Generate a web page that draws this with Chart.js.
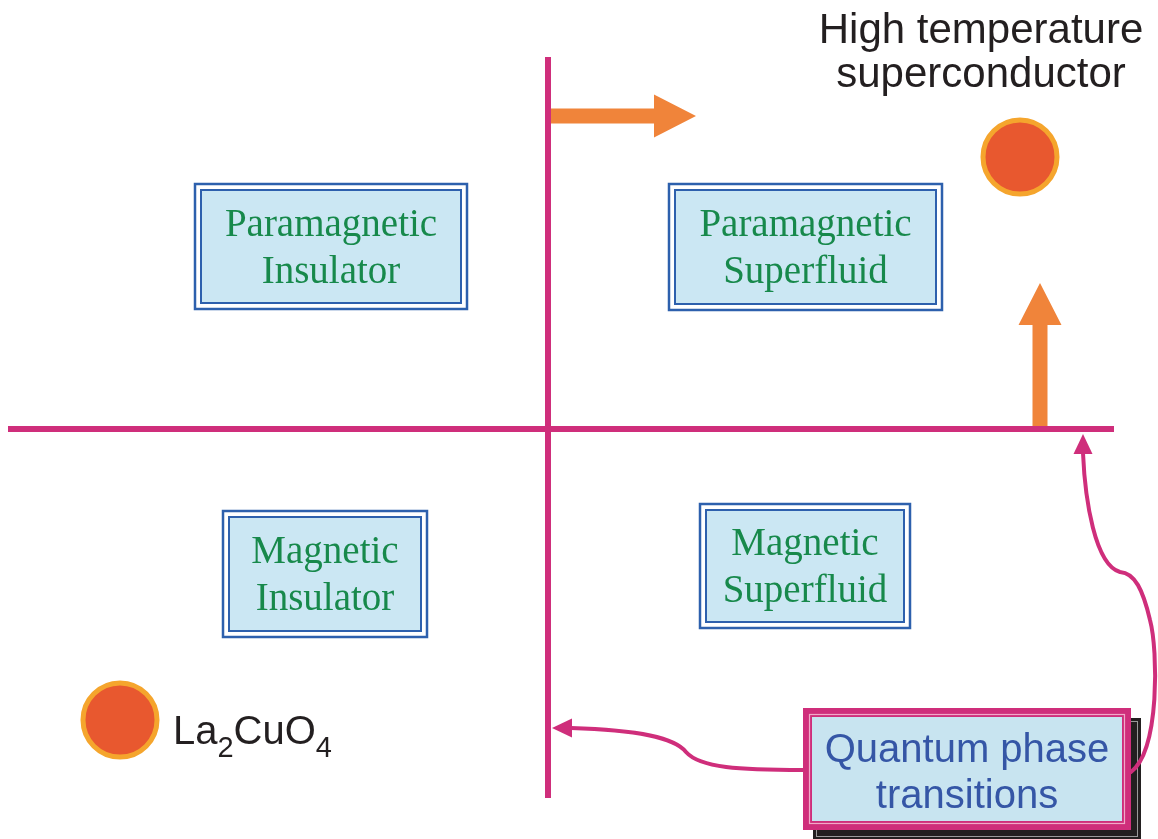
<!DOCTYPE html>
<html>
<head>
<meta charset="utf-8">
<script src="https://cdn.jsdelivr.net/npm/chart.js@4/dist/chart.umd.min.js"></script>
<style>
  html, body { margin: 0; padding: 0; background: #fff; overflow: hidden; }
  canvas { display: block; }
</style>
</head>
<body>
<canvas id="phaseChart" width="1158" height="839"></canvas>
<script>
// phase diagram in its own units: crossing of the two transition lines is (0, 0)
const axisV = { x: [0, 0], y: [3.72, -3.69] };
const axisH = { x: [-5.40, 5.66], y: [0, 0] };

const regionNames = [['Paramagnetic', 'Insulator'], ['Paramagnetic', 'Superfluid'],
                     ['Magnetic', 'Insulator'], ['Magnetic', 'Superfluid']];
const regionX = [-2.17, 2.575, -2.23, 2.57];
const regionY = [1.825, 1.82, -1.45, -1.37];
const regionW = [2.72, 2.73, 2.04, 2.10];
const regionH = [1.25, 1.26, 1.26, 1.24];

const materials = ['High temperature superconductor', 'La2CuO4'];
const materialX = [4.72, -4.28];
const materialY = [2.72, -2.91];

// orange "tuning" arrows: [from, to]
const tuneArrows = [
  [[0.03, 3.13], [1.48, 3.13]],
  [[4.92, 0.01], [4.92, 1.46]]
];

const qptLabel = ['Quantum phase', 'transitions'];
const qptBox = { x: 4.19, y: -3.40, w: 3.28, h: 1.22 };

// magenta pointer curves: start, then bezier triples, then arrow tip
const qptCurves = [
  { start: [2.55, -3.41],
    segs: [[[1.92, -3.41], [1.52, -3.39], [1.38, -3.23]],
           [[1.27, -3.09], [0.92, -3.01], [0.23, -2.99]]],
    tip: [0.04, -2.99] },
  { start: [5.83, -3.43],
    segs: [[[6.12, -3.21], [6.10, -2.21], [6.02, -1.91]],
           [[5.95, -1.61], [5.87, -1.44], [5.72, -1.43]],
           [[5.47, -1.36], [5.37, -0.71], [5.35, -0.24]]],
    tip: [5.35, -0.05] }
];

const MAGENTA = '#cf2e7b';
const ORANGE = '#f0843a';

function toPts(a) {
  return a.x.map((v, i) => ({ x: v, y: a.y[i] }));
}

const diagramPlugin = {
  id: 'diagram',
  beforeDatasetsDraw(chart) {
    const ctx = chart.ctx;
    const sx = chart.scales.x, sy = chart.scales.y;
    const px = v => sx.getPixelForValue(v), py = v => sy.getPixelForValue(v);
    ctx.save();
    // orange block arrows
    ctx.fillStyle = ORANGE;
    tuneArrows.forEach(([a, b]) => {
      const x0 = px(a[0]), y0 = py(a[1]), x1 = px(b[0]), y1 = py(b[1]);
      const ang = Math.atan2(y1 - y0, x1 - x0);
      const len = Math.hypot(x1 - x0, y1 - y0);
      ctx.save();
      ctx.translate(x0, y0);
      ctx.rotate(ang);
      ctx.beginPath();
      ctx.moveTo(0, -7.5);
      ctx.lineTo(len - 42, -7.5);
      ctx.lineTo(len - 42, -21.5);
      ctx.lineTo(len, 0);
      ctx.lineTo(len - 42, 21.5);
      ctx.lineTo(len - 42, 7.5);
      ctx.lineTo(0, 7.5);
      ctx.closePath();
      ctx.fill();
      ctx.restore();
    });

    // region boxes
    regionNames.forEach((lines, i) => {
      const l = px(regionX[i] - regionW[i] / 2), r = px(regionX[i] + regionW[i] / 2);
      const t = py(regionY[i] + regionH[i] / 2), b = py(regionY[i] - regionH[i] / 2);
      ctx.strokeStyle = '#2d60ad';
      ctx.lineWidth = 2.5;
      ctx.strokeRect(l, t, r - l, b - t);
      ctx.fillStyle = '#cbe7f3';
      ctx.fillRect(l + 6, t + 6, r - l - 12, b - t - 12);
      ctx.lineWidth = 2;
      ctx.strokeRect(l + 6, t + 6, r - l - 12, b - t - 12);
      ctx.fillStyle = '#17894b';
      ctx.font = '39px "Liberation Serif", "Times New Roman", serif';
      ctx.textAlign = 'center';
      ctx.textBaseline = 'alphabetic';
      const cx = (l + r) / 2, cy = (t + b) / 2;
      ctx.fillText(lines[0], cx, cy - 11);
      ctx.fillText(lines[1], cx, cy + 36);
    });

    // quantum phase transitions box with shadow
    const ql = px(qptBox.x - qptBox.w / 2), qr = px(qptBox.x + qptBox.w / 2);
    const qt = py(qptBox.y + qptBox.h / 2), qb = py(qptBox.y - qptBox.h / 2);
    ctx.fillStyle = '#231f20';
    ctx.fillRect(ql + 10, qt + 10, qr - ql, qb - qt);
    ctx.strokeStyle = '#9a9a9a';
    ctx.lineWidth = 1;
    ctx.strokeRect(ql + 13.5, qt + 13.5, qr - ql - 7, qb - qt - 7);
    ctx.fillStyle = MAGENTA;
    ctx.fillRect(ql, qt, qr - ql, qb - qt);
    ctx.strokeStyle = '#f2a9c8';
    ctx.lineWidth = 1.2;
    ctx.strokeRect(ql + 6.5, qt + 6.5, qr - ql - 13, qb - qt - 13);
    ctx.fillStyle = '#c8e4f0';
    ctx.fillRect(ql + 9, qt + 9, qr - ql - 18, qb - qt - 18);
    ctx.fillStyle = '#3556a6';
    ctx.font = '40px "Liberation Sans", Arial, sans-serif';
    ctx.textAlign = 'center';
    const qcx = (ql + qr) / 2, qcy = (qt + qb) / 2;
    ctx.fillText(qptLabel[0], qcx, qcy - 7);
    ctx.fillText(qptLabel[1], qcx, qcy + 39);
    ctx.restore();
  },
  afterDatasetsDraw(chart) {
    const ctx = chart.ctx;
    const sx = chart.scales.x, sy = chart.scales.y;
    const px = v => sx.getPixelForValue(v), py = v => sy.getPixelForValue(v);
    ctx.save();
    // magenta pointer curves
    ctx.strokeStyle = MAGENTA;
    ctx.fillStyle = MAGENTA;
    ctx.lineWidth = 4;
    ctx.lineCap = 'round';
    ctx.lineJoin = 'round';
    qptCurves.forEach(c => {
      ctx.beginPath();
      ctx.moveTo(px(c.start[0]), py(c.start[1]));
      let last = c.start;
      c.segs.forEach(s => {
        ctx.bezierCurveTo(px(s[0][0]), py(s[0][1]), px(s[1][0]), py(s[1][1]), px(s[2][0]), py(s[2][1]));
        last = s[2];
      });
      ctx.stroke();
      const bx = px(last[0]), by = py(last[1]), tx = px(c.tip[0]), ty = py(c.tip[1]);
      const ang = Math.atan2(ty - by, tx - bx);
      ctx.save();
      ctx.translate(tx, ty);
      ctx.rotate(ang);
      ctx.beginPath();
      ctx.moveTo(0, 0);
      ctx.lineTo(-20, -9.5);
      ctx.lineTo(-20, 9.5);
      ctx.closePath();
      ctx.fill();
      ctx.restore();
    });

    // material labels
    ctx.fillStyle = '#231f20';
    ctx.textBaseline = 'alphabetic';
    ctx.font = '42px "Liberation Sans", Arial, sans-serif';
    ctx.textAlign = 'center';
    const hx = px(materialX[0]) - 39;
    const words = materials[0].split(' ');
    ctx.fillText(words[0] + ' ' + words[1], hx, py(materialY[0]) - 114);
    ctx.fillText(words[2], hx, py(materialY[0]) - 70);

    // La2CuO4 with subscripts
    ctx.textAlign = 'left';
    let lx = px(materialX[1]) + 53;
    const ly = py(materialY[1]) + 24;
    const parts = materials[1].match(/[A-Za-z]+|\d+/g);
    parts.forEach(p => {
      const sub = /^\d+$/.test(p);
      ctx.font = (sub ? '29px' : '40px') + ' "Liberation Sans", Arial, sans-serif';
      ctx.fillText(p, lx, sub ? ly + 13 : ly);
      lx += ctx.measureText(p).width;
    });
    ctx.restore();
  }
};

new Chart(document.getElementById('phaseChart'), {
  type: 'scatter',
  data: {
    datasets: [
      { label: 'transition (vertical)', data: toPts(axisV), showLine: true,
        borderColor: MAGENTA, borderWidth: 6, pointRadius: 0, borderCapStyle: 'butt' },
      { label: 'transition (horizontal)', data: toPts(axisH), showLine: true,
        borderColor: MAGENTA, borderWidth: 6, pointRadius: 0, borderCapStyle: 'butt' },
      { label: 'materials', data: materialX.map((x, i) => ({ x: x, y: materialY[i] })),
        pointRadius: 37, pointHoverRadius: 37, backgroundColor: '#e8582f',
        borderColor: '#f5a52d', borderWidth: 5, clip: false }
    ]
  },
  options: {
    responsive: false,
    animation: false,
    layout: { padding: 0, autoPadding: false },
    events: [],
    plugins: { legend: { display: false }, tooltip: { enabled: false } },
    scales: {
      x: { type: 'linear', min: -5.48, max: 6.10, display: false },
      y: { type: 'linear', min: -4.10, max: 4.29, display: false }
    }
  },
  plugins: [diagramPlugin]
});
</script>
</body>
</html>
